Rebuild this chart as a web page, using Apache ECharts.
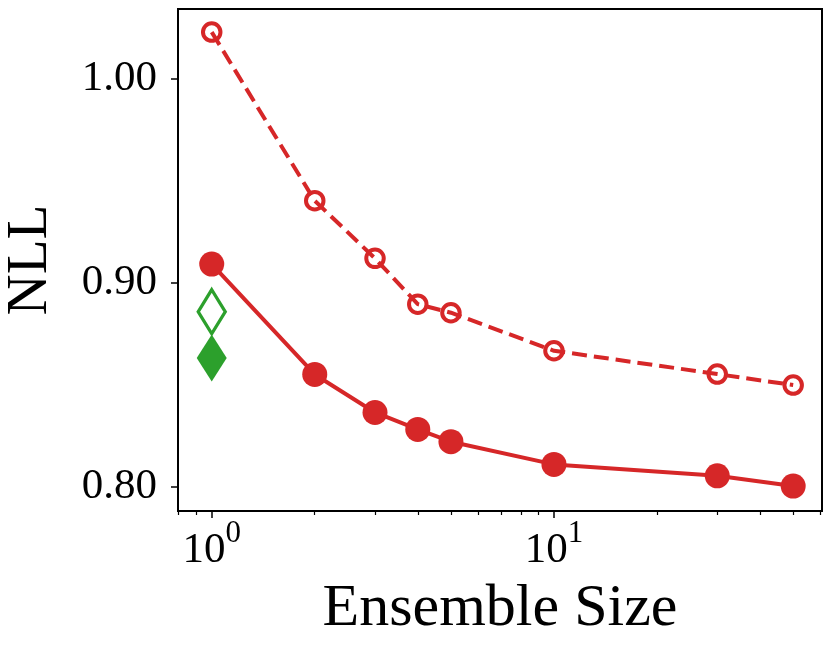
<!DOCTYPE html>
<html>
<head>
<meta charset="utf-8">
<script src="https://cdn.jsdelivr.net/npm/echarts@6/dist/echarts.min.js"></script>
<style>
  html, body { margin: 0; padding: 0; background: #fff; }
  #main { width: 831px; height: 653px; }
</style>
</head>
<body>
<div id="main"></div>
<script>
// ensemble sizes and NLL values
var sizes = [1, 2, 3, 4, 5, 10, 30, 50];
var nllEnsemble = [0.9091, 0.8551, 0.8365, 0.8282, 0.8222, 0.8111, 0.8055, 0.8005];
var nllDashed = [1.0226, 0.9401, 0.9119, 0.8895, 0.8853, 0.8667, 0.8553, 0.8499];
var singleSize = [1];
var nllOpenDiamond = [0.8858];
var nllFilledDiamond = [0.8631];

var xMajorTicks = [1, 10];
var xMinorTicks = [0.8, 0.9, 2, 3, 4, 5, 6, 7, 8, 9, 20, 30, 40, 50, 60];
var yTicks = [0.8, 0.9, 1.0];

var red = '#d62728';
var green = '#2ca02c';
var font = '"Liberation Serif", "DejaVu Serif", serif';
var thinDiamond = 'path://M0,-1 L0.6,0 L0,1 L-0.6,0 Z';

function pairs(xs, ys) {
    return xs.map(function (x, i) { return [x, ys[i]]; });
}

var myChart = echarts.init(document.getElementById('main'));

var option = {
    animation: false,
    backgroundColor: '#fff',
    textStyle: { fontFamily: font, color: '#000' },
    grid: {
        left: 178, right: 9, top: 9, bottom: 142,
        show: true, borderColor: '#000', borderWidth: 2,
        outerBoundsMode: 'none'
    },
    xAxis: [
        {
            type: 'log',
            logBase: 10,
            min: 0.797,
            max: 60.7,
            name: 'Ensemble Size',
            nameLocation: 'middle',
            nameGap: 68,
            nameTextStyle: { fontFamily: font, fontSize: 60, color: '#000' },
            axisLine: { show: true, lineStyle: { color: '#000', width: 2 } },
            axisTick: { show: true, customValues: xMajorTicks, length: 7, lineStyle: { color: '#000', width: 1.5 } },
            axisLabel: {
                customValues: xMajorTicks,
                margin: 7,
                formatter: function (v) {
                    return '{b|10}{s|' + Math.round(Math.log10(v)) + '}';
                },
                rich: {
                    b: { fontFamily: font, fontSize: 43, color: '#000', lineHeight: 54, verticalAlign: 'bottom' },
                    s: { fontFamily: font, fontSize: 31, color: '#000', verticalAlign: 'top', lineHeight: 26 }
                }
            },
            splitLine: { show: false },
            minorTick: { show: false }
        },
        {
            type: 'log',
            logBase: 10,
            min: 0.797,
            max: 60.7,
            position: 'bottom',
            axisLine: { show: false },
            axisTick: { show: true, customValues: xMinorTicks, length: 4, lineStyle: { color: '#000', width: 1.2 } },
            axisLabel: { show: false },
            splitLine: { show: false }
        }
    ],
    yAxis: {
        type: 'value',
        min: 0.7883,
        max: 1.0339,
        name: 'NLL',
        nameLocation: 'middle',
        nameGap: 118,
        nameTextStyle: { fontFamily: font, fontSize: 57, color: '#000' },
        axisLine: { show: true, lineStyle: { color: '#000', width: 2 } },
        axisTick: { show: true, customValues: yTicks, length: 7, lineStyle: { color: '#000', width: 1.5 } },
        axisLabel: {
            customValues: yTicks,
            margin: 21,
            fontFamily: font,
            fontSize: 43,
            color: '#000',
            formatter: function (v) { return v.toFixed(2); }
        },
        splitLine: { show: false }
    },
    series: [
        {
            type: 'line',
            data: pairs(sizes, nllDashed),
            symbol: 'circle',
            symbolSize: 17.5,
            lineStyle: { color: red, width: 4, type: [15, 7] },
            itemStyle: { color: 'rgba(0,0,0,0)', borderColor: red, borderWidth: 4, opacity: 1 },
            z: 2
        },
        {
            type: 'line',
            data: pairs(sizes, nllEnsemble),
            symbol: 'circle',
            symbolSize: 25,
            lineStyle: { color: red, width: 4 },
            itemStyle: { color: red, borderWidth: 0, opacity: 1 },
            z: 3
        },
        {
            type: 'scatter',
            data: pairs(singleSize, nllOpenDiamond),
            symbol: thinDiamond,
            symbolSize: [27, 44],
            itemStyle: { color: 'rgba(0,0,0,0)', borderColor: green, borderWidth: 3.5, opacity: 1 },
            z: 4
        },
        {
            type: 'scatter',
            data: pairs(singleSize, nllFilledDiamond),
            symbol: thinDiamond,
            symbolSize: [30, 47],
            itemStyle: { color: green, borderWidth: 0, opacity: 1 },
            z: 4
        }
    ]
};

myChart.setOption(option);
</script>
</body>
</html>
